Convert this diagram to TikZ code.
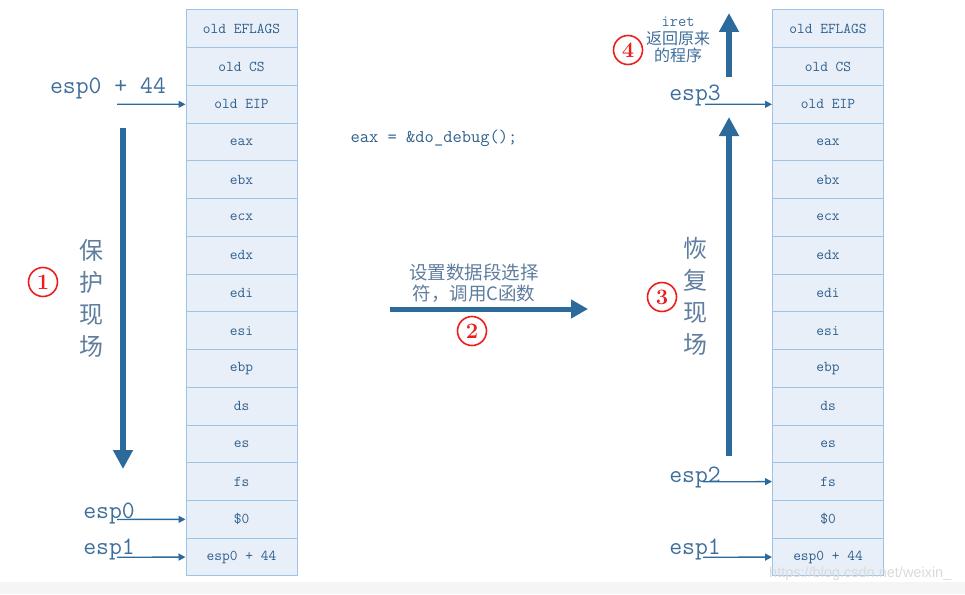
\documentclass[tikz,border=0pt]{standalone}
\usepackage{fontspec}
\newfontfamily\cjk{Noto Sans CJK SC}
\newfontfamily\wmfont{Liberation Sans}
\usetikzlibrary{arrows.meta}
\definecolor{cellfill}{RGB}{232,239,248}
\definecolor{cellline}{RGB}{157,195,230}
\definecolor{celltext}{RGB}{47,95,140}
\definecolor{arrowblue}{RGB}{44,106,155}
\definecolor{labelblue}{RGB}{62,110,155}
\definecolor{cjkgray}{RGB}{95,125,158}
\definecolor{numred}{RGB}{235,30,30}
\begin{document}
\begin{tikzpicture}[x=1pt,y=-1pt,
  cell/.style={draw=cellline, fill=cellfill, line width=1pt, minimum width=111pt, minimum height=37.73pt, inner sep=0pt, text=celltext, font=\ttfamily\fontsize{15}{15}\selectfont},
  esplabel/.style={anchor=base, text=labelblue, inner sep=0pt, font=\ttfamily\fontsize{25}{25}\selectfont},
  thinarrow/.style={draw=arrowblue, line width=1.3pt, -{Triangle[length=7pt,width=7pt]}},
  bigarrow/.style={draw=arrowblue, line width=6pt, -{Triangle[length=19pt,width=19pt]}},
  midarrow/.style={draw=arrowblue, line width=5pt, -{Triangle[length=17pt,width=18pt]}},
  vtext/.style={align=center, text=cjkgray, inner sep=0pt, font=\cjk\fontsize{24}{32}\selectfont},
  numcirc/.style={circle, draw=numred, line width=1.6pt, minimum size=29pt, inner sep=0pt, text=numred, font=\fontsize{22}{22}\selectfont\bfseries},
]
\useasboundingbox (0,0) rectangle (965,594);
\fill[fill={rgb,255:red,245;green,245;blue,245}] (0,582) rectangle (965,594);

% stacks
\foreach \t [count=\i] in {old EFLAGS,old CS,old EIP,eax,ebx,ecx,edx,edi,esi,ebp,ds,es,fs,\$0,esp0 + 44}{
  \node[cell] (L\i) at (241.5,{10+(\i-0.5)*37.73}) {\t};
  \node[cell] (R\i) at (828,{10+(\i-0.5)*37.73}) {\t};
}

% left labels
\node[esplabel] (lesp44) at (108,93) {esp0 + 44};
\coordinate (la44) at (117,104.3);
\draw[thinarrow] (la44) -- (L3.west);
\node[esplabel] (lesp0) at (109,518) {esp0};
\coordinate (la0) at (117,519.4);
\draw[thinarrow] (la0) -- (L14.west);
\node[esplabel] (lesp1) at (109,554) {esp1};
\coordinate (la1) at (117,557.2);
\draw[thinarrow] (la1) -- (L15.west);

% left big arrow
\coordinate (ld1) at (123,128);
\coordinate (ld2) at (123,469);
\draw[bigarrow] (ld1) -- (ld2);
\node[vtext] (save) at (91,298) {保\\护\\现\\场};
\node[numcirc] (n1) at (43,282) {1};

% middle
\node[anchor=base, text=celltext, inner sep=0pt, font=\ttfamily\fontsize{18}{18}\selectfont] (code) at (434,142) {eax = \&do\_debug();};
\node[align=center, text=cjkgray, inner sep=0pt, font=\cjk\fontsize{18.5}{21}\selectfont] (mid) at (474,283) {设置数据段选择\\符，调用C函数};
\coordinate (m1) at (390,309);
\coordinate (m2) at (588,309);
\draw[midarrow] (m1) -- (m2);
\node[numcirc] (n2) at (472,331) {2};

% right labels
\node[esplabel] (resp3) at (695,100) {esp3};
\coordinate (ra3) at (705,104.3);
\draw[thinarrow] (ra3) -- (R3.west);
\node[esplabel] (resp2) at (695,482) {esp2};
\coordinate (ra2) at (703,481.7);
\draw[thinarrow] (ra2) -- (R13.west);
\node[esplabel] (resp1) at (695,554) {esp1};
\coordinate (ra1) at (703,557.2);
\draw[thinarrow] (ra1) -- (R15.west);

% right big arrows
\coordinate (ru1) at (729,456);
\coordinate (ru2) at (729,117);
\draw[bigarrow] (ru1) -- (ru2);
\coordinate (ru3) at (729,77);
\coordinate (ru4) at (729,13);
\draw[bigarrow] (ru3) -- (ru4);
\node[vtext] (restore) at (695,296) {恢\\复\\现\\场};
\node[numcirc] (n3) at (662,297) {3};
\node[align=center, text=labelblue, inner sep=0pt, font=\cjk\fontsize{16}{17.5}\selectfont] (iret) at (678,40) {{\ttfamily iret}\\返回原来\\的程序};
\node[numcirc] (n4) at (628,50) {4};

% watermark
\node[anchor=base west, inner sep=0pt, text={rgb,255:red,218;green,218;blue,218}, font=\wmfont\fontsize{14.5}{15}\selectfont] (wm) at (769,577) {https://blog.csdn.net/weixin\_};
\end{tikzpicture}
\end{document}
